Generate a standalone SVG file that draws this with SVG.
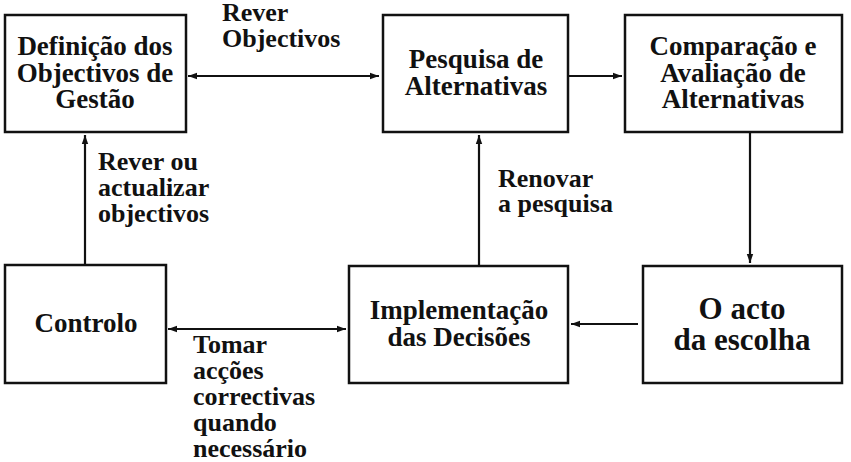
<svg xmlns="http://www.w3.org/2000/svg" width="851" height="462" viewBox="0 0 851 462">
<style>
.box{fill:#fff;stroke:#111;stroke-width:2.5}
.t{font-family:"Liberation Serif","Times New Roman",serif;font-weight:bold;font-size:27px;fill:#111;text-anchor:middle}
.l{font-family:"Liberation Serif","Times New Roman",serif;font-weight:bold;font-size:26px;fill:#111}
.big{font-size:31px}
.c{fill:none;stroke:#111;stroke-width:2.2}
</style>
<defs>
<marker id="ah" markerWidth="10" markerHeight="8" refX="9" refY="4" orient="auto-start-reverse" markerUnits="userSpaceOnUse">
<path d="M0,0.8 L9,4 L0,7.2 Z" fill="#111"/>
</marker>
</defs>
<rect width="851" height="462" fill="#fff"/>
<g id="connectors">
<line class="c" x1="188" y1="76" x2="379" y2="76" marker-start="url(#ah)" marker-end="url(#ah)"/>
<line class="c" x1="568" y1="76" x2="622" y2="76" marker-end="url(#ah)"/>
<line class="c" x1="750" y1="133" x2="750" y2="263" marker-end="url(#ah)"/>
<line class="c" x1="638" y1="324" x2="571" y2="324" marker-end="url(#ah)"/>
<line class="c" x1="479" y1="265" x2="479" y2="135" marker-end="url(#ah)"/>
<line class="c" x1="85" y1="264" x2="85" y2="135" marker-end="url(#ah)"/>
<line class="c" x1="168" y1="329" x2="346" y2="329" marker-start="url(#ah)" marker-end="url(#ah)"/>
</g>
<g id="n1">
<rect class="box" x="5" y="15" width="181" height="117"/>
<text class="t" x="95" y="55">Definição dos</text>
<text class="t" x="95" y="82">Objectivos de</text>
<text class="t" x="95" y="108">Gestão</text>
</g>
<g id="n2">
<rect class="box" x="383" y="15" width="185" height="117"/>
<text class="t" x="476" y="68">Pesquisa de</text>
<text class="t" x="476" y="95">Alternativas</text>
</g>
<g id="n3">
<rect class="box" x="625" y="15" width="217" height="117"/>
<text class="t" x="733" y="55">Comparação e</text>
<text class="t" x="733" y="82">Avaliação de</text>
<text class="t" x="733" y="108">Alternativas</text>
</g>
<g id="n4">
<rect class="box" x="5" y="265" width="161" height="118"/>
<text class="t" x="86" y="332">Controlo</text>
</g>
<g id="n5">
<rect class="box" x="349" y="266" width="219" height="117"/>
<text class="t" x="459" y="319">Implementação</text>
<text class="t" x="459" y="346">das Decisões</text>
</g>
<g id="n6">
<rect class="box" x="643" y="266" width="199" height="117"/>
<text class="t big" x="742" y="319">O acto</text>
<text class="t big" x="742" y="350">da escolha</text>
</g>
<g id="labels">
<text class="l" x="222" y="21">Rever</text>
<text class="l" x="222" y="47">Objectivos</text>
<text class="l" x="98" y="170">Rever ou</text>
<text class="l" x="98" y="196">actualizar</text>
<text class="l" x="98" y="222">objectivos</text>
<text class="l" x="498" y="187">Renovar</text>
<text class="l" x="498" y="212">a pesquisa</text>
<text class="l" x="193" y="353">Tomar</text>
<text class="l" x="193" y="379">acções</text>
<text class="l" x="193" y="405">correctivas</text>
<text class="l" x="193" y="431">quando</text>
<text class="l" x="193" y="457">necessário</text>
</g>
</svg>
